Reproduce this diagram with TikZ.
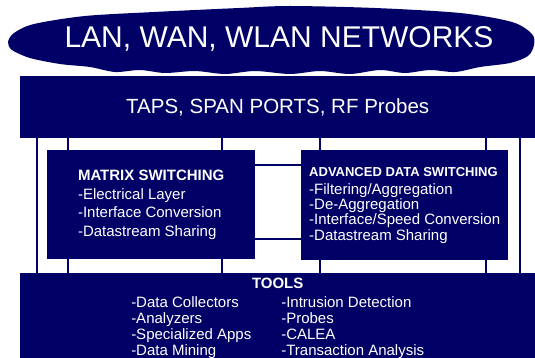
\documentclass[tikz,border=0pt]{standalone}
\usepackage{fontspec}
\setmainfont{Liberation Sans}
\definecolor{navy}{RGB}{0,0,102}
\begin{document}
\begin{tikzpicture}[x=1pt,y=-1pt,
  box/.style={fill=navy,text=white,inner sep=0pt,anchor=north west},
  wire/.style={navy,line width=1.6pt}]
\useasboundingbox (0,0) rectangle (535,358);
% cloud on top
\fill[navy] plot[smooth cycle] coordinates {(8,42) (14,33) (34,24) (85,16) (154,12) (239,8) (290,6) (375,8) (460,13) (512,22) (532,34)
  (534,45) (528,56) (510,63) (480,67) (455,72) (430,70) (405,73) (380,70) (350,74) (320,71) (290,74) (255,71)
  (225,74) (195,71) (165,73) (140,70) (115,72) (90,67) (60,64) (30,58) (12,50)};
\node[text=white,font=\fontsize{30}{30}\selectfont] (net) at (279,39) {LAN, WAN, WLAN NETWORKS};
\node[box,minimum width=515pt,minimum height=62pt,font=\fontsize{20.5}{20.5}\selectfont] (taps) at (20,76) {TAPS, SPAN PORTS, RF Probes};
\node[box,minimum width=208pt,minimum height=109pt,align=left,font=\fontsize{15}{18.5}\selectfont] (matrix) at (47,150)
  {\textbf{MATRIX SWITCHING}\\-Electrical Layer\\-Interface Conversion\\-Datastream Sharing};
\node[box,minimum width=207pt,minimum height=110pt,align=left,font=\fontsize{15}{15.3}\selectfont] (adv) at (301,150)
  {{\fontsize{13}{15.3}\selectfont\bfseries ADVANCED DATA SWITCHING}\\[2.7pt]-Filtering/Aggregation\\-De-Aggregation\\-Interface/Speed Conversion\\-Datastream Sharing};
\node[box,minimum width=515pt,minimum height=92pt,font=\fontsize{15}{16}\selectfont] (tools) at (20,273)
  {\begin{tabular}{@{}l@{\hspace{30pt}}l@{}}
   \multicolumn{2}{c}{\textbf{TOOLS}}\\[3pt]
   -Data Collectors & -Intrusion Detection\\
   -Analyzers & -Probes\\
   -Specialized Apps & -CALEA\\
   -Data Mining & -Transaction Analysis
   \end{tabular}};
% links
\foreach \x in {37,520}
  \draw[wire] (taps.south -| \x,0) -- (tools.north -| \x,0);
\foreach \x in {68,222}
  \draw[wire] (taps.south -| \x,0) -- (matrix.north -| \x,0) (matrix.south -| \x,0) -- (tools.north -| \x,0);
\foreach \x in {320,486}
  \draw[wire] (taps.south -| \x,0) -- (adv.north -| \x,0) (adv.south -| \x,0) -- (tools.north -| \x,0);
\foreach \y in {165,239}
  \draw[wire] (matrix.east |- 0,\y) -- (adv.west |- 0,\y);
\end{tikzpicture}
\end{document}
